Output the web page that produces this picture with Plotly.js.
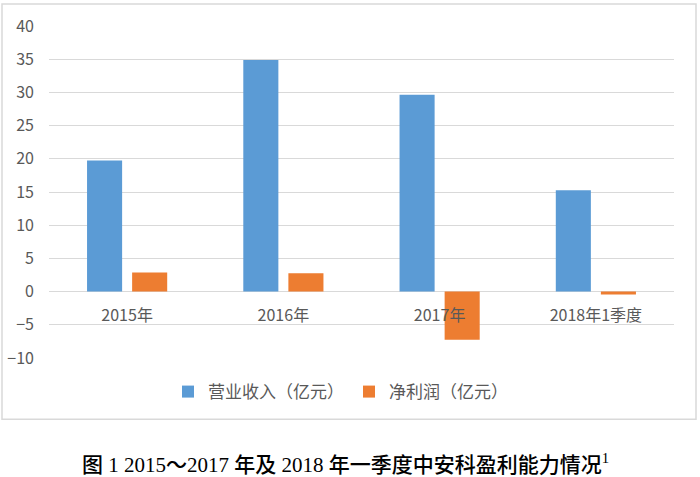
<!DOCTYPE html>
<html><head><meta charset="utf-8">
<script src="https://cdn.plot.ly/plotly-3.0.1.min.js"></script>
<style>html,body{margin:0;padding:0;background:#fff}#chart{width:700px;height:477px}</style>
</head><body><div id="chart"></div>
<script>
const categories = ["2015年", "2016年", "2017年", "2018年1季度"];
const revenue = [19.75, 34.88, 29.65, 15.28];
const netProfit = [2.86, 2.77, -7.24, -0.45];
const seriesNames = ["营业收入（亿元）", "净利润（亿元）"];
const yTicks = [-10, -5, 0, 5, 10, 15, 20, 25, 30, 35, 40];
const caption = "图 1 2015～2017 年及 2018 年一季度中安科盈利能力情况<sup>1</sup>";

const font = "Noto Sans CJK SC, sans-serif";
const data = [
  {type: "bar", x: categories, y: revenue, name: seriesNames[0], marker: {color: "#5B9BD5"}},
  {type: "bar", x: categories, y: netProfit, name: seriesNames[1], marker: {color: "#ED7D31"}}
];
// plot area pixels: x 49..674, y 26..357.7
const L = 49, R = 674, T = 26, B = 357.7;
const px = v => (v - L) / (R - L);
const py = v => (B - v) / (B - T);
const layout = {
  width: 700, height: 477,
  margin: {l: L, r: 700 - R, t: T, b: 477 - B, pad: 0},
  paper_bgcolor: "#fff", plot_bgcolor: "#fff",
  font: {family: font, color: "#595959", size: 16},
  barmode: "group", bargap: 0.423, bargroupgap: 0.222,
  showlegend: true,
  legend: {orientation: "h", x: px(168), xanchor: "left", y: py(391.7), yanchor: "middle",
           font: {size: 17, color: "#595959"}, itemwidth: 30},
  xaxis: {anchor: "free", position: 0.2, showline: false, showgrid: false, ticks: "",
          tickfont: {size: 16, color: "#595959"}, ticklabelstandoff: 12},
  yaxis: {range: [-10, 40], tickvals: yTicks, showgrid: true, gridcolor: "#d9d9d9", gridwidth: 1,
          zeroline: true, zerolinecolor: "#d9d9d9", zerolinewidth: 1, showline: false, ticks: "",
          tickfont: {size: 16, color: "#595959"}, ticklabelstandoff: 14},
  shapes: [
    {type: "rect", xref: "paper", yref: "paper", x0: px(2), x1: px(696), y0: py(4), y1: py(419),
     line: {color: "#d9d9d9", width: 1.5}, fillcolor: "rgba(0,0,0,0)", layer: "below"}
  ],
  annotations: [
    {xref: "paper", yref: "paper", x: px(345), y: py(463), xanchor: "center", yanchor: "middle",
     showarrow: false, text: caption,
     font: {family: "Liberation Serif, Noto Sans CJK SC, serif", size: 21, color: "#000", weight: 500}}
  ]
};
Plotly.newPlot("chart", data, layout, {staticPlot: true, displayModeBar: false});
</script></body></html>
